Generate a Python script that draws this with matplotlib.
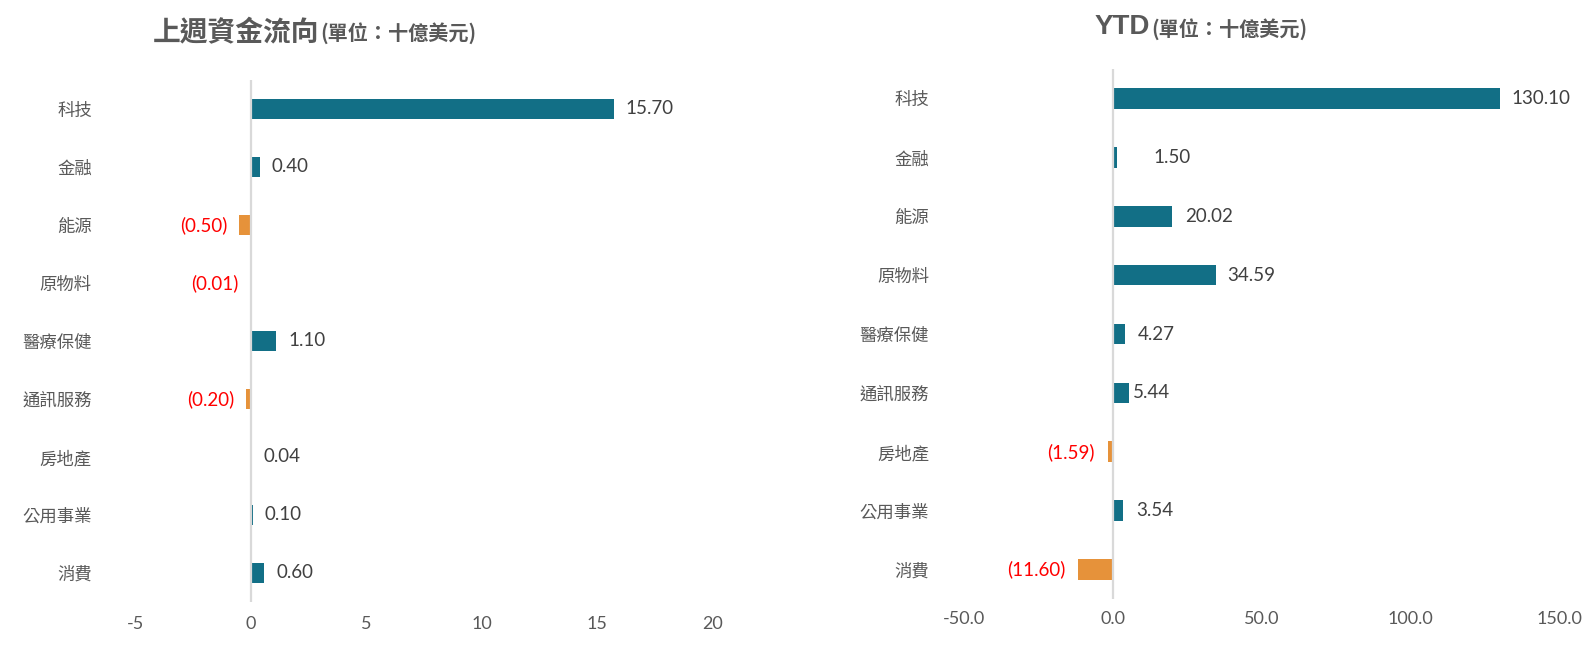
import numpy as np
import matplotlib
matplotlib.use("Agg")
import matplotlib.pyplot as plt
from matplotlib.ticker import FuncFormatter

plt.rcParams['axes.unicode_minus'] = False

# 資料
sectors = ['科技', '金融', '能源', '原物料', '醫療保健', '通訊服務', '房地產', '公用事業', '消費']
weekly_flow = [15.70, 0.40, -0.50, -0.01, 1.10, -0.20, 0.04, 0.10, 0.60]
ytd_flow = [130.10, 1.50, 20.02, 34.59, 4.27, 5.44, -1.59, 3.54, -11.60]
weekly_ticks = [-5, 0, 5, 10, 15, 20]
ytd_ticks = [-50, 0, 50, 100, 150]

TEAL = '#126F86'
ORANGE = '#E6923A'
GRAY = '#595959'
DARK = '#404040'
CJK = ['Noto Sans CJK TC', 'DejaVu Sans']
NUM = ['Lato', 'DejaVu Sans']

W, H = 1596, 650
fig = plt.figure(figsize=(W / 100, H / 100), dpi=100)


def px_axes(x0, x1, y0, y1):
    # 以像素座標設定 axes 位置
    return fig.add_axes([x0 / W, 1 - y1 / H, (x1 - x0) / W, (y1 - y0) / H])


def draw_panel(ax, values, ticks, fmt, label_pad, tick_pad, gaps):
    y = np.arange(len(sectors))
    colors = [TEAL if v >= 0 else ORANGE for v in values]
    ax.barh(y, values, height=0.35, color=colors, zorder=2)
    ax.axvline(0, color='#D9D9D9', lw=1.6, zorder=3)
    ax.set_ylim(len(sectors) - 0.5, -0.5)
    ax.set_xlim(ticks[0], ticks[-1])
    ax.set_xticks(ticks)
    ax.xaxis.set_major_formatter(FuncFormatter(fmt))
    ax.set_yticks(y)
    ax.set_yticklabels(sectors, family=CJK, fontsize=12.5, color=GRAY)
    for t in ax.get_xticklabels():
        t.set_family(NUM)
        t.set_fontsize(13)
        t.set_color(GRAY)
    ax.tick_params(axis='y', length=0, pad=label_pad)
    ax.tick_params(axis='x', length=0, pad=tick_pad)
    for s in ax.spines.values():
        s.set_visible(False)

    for i, v in enumerate(values):
        g = gaps[i] * 0.72  # 像素 -> points
        if v >= 0:
            ax.annotate(f"{v:.2f}", xy=(v, i), xytext=(g, 0), textcoords='offset points',
                        ha='left', va='center', fontsize=13.5, family=NUM, color=DARK)
        else:
            ax.annotate(f"({abs(v):.2f})", xy=(v, i), xytext=(-g, 0), textcoords='offset points',
                        ha='right', va='center', fontsize=13.5, family=NUM, color='#FF0000')


ax1 = px_axes(135, 713, 80, 602)
draw_panel(ax1, weekly_flow, weekly_ticks, lambda v, p: f"{v:.0f}", 31, 10,
           [12] * len(sectors))

ax2 = px_axes(964, 1559, 69, 599)
draw_panel(ax2, ytd_flow, ytd_ticks, lambda v, p: f"{v:.1f}", 25, 9,
           [12, 36, 13, 12, 12, 4, 13, 13, 13])

# 標題
t1 = fig.text(153 / W, 1 - 41 / H, '上週資金流向', family=CJK, fontsize=20,
              fontweight='bold', color=GRAY, va='baseline', ha='left')
t2 = fig.text(1095 / W, 1 - 34 / H, 'YTD', family=['Liberation Sans'] + CJK, fontsize=20,
              fontweight='bold', color=GRAY, va='baseline', ha='left')
fig.canvas.draw()
for t, base in ((t1, 40), (t2, 36)):
    bb = t.get_window_extent()
    fig.text((bb.x1 + 1) / W, 1 - base / H, '(單位：十億美元)', family=CJK, fontsize=14.5,
             fontweight='bold', color=GRAY, va='baseline', ha='left')

fig.savefig('out.png', dpi=100)
